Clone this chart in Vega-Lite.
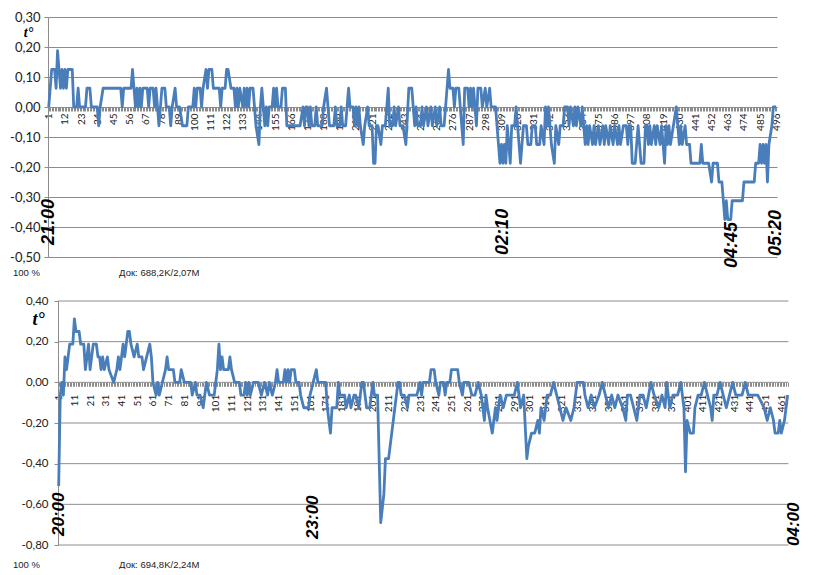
{
  "$schema": "https://vega.github.io/schema/vega-lite/v6.json",
  "background": "white",
  "padding": {"left": 9, "top": 11, "right": 0, "bottom": 0},
  "spacing": 17,
  "config": {
    "locale": {"number": {"decimal": ",", "thousands": " ", "grouping": [3], "currency": ["", ""], "minus": "-"}},
    "view": {"stroke": null},
    "font": "Lato",
    "axis": {"labelFont": "Lato", "labelColor": "#222", "domainColor": "#8c8c8c", "tickColor": "#8c8c8c", "gridColor": "#8c8c8c", "gridWidth": 1, "domainWidth": 1, "tickWidth": 1}
  },
  "vconcat": [
    {
      "width": 729,
      "height": 240,
      "title": {"text": "100 %\u00a0\u00a0\u00a0\u00a0\u00a0\u00a0\u00a0\u00a0\u00a0\u00a0\u00a0\u00a0\u00a0\u00a0\u00a0\u00a0\u00a0\u00a0\u00a0\u00a0\u00a0\u00a0\u00a0\u00a0\u00a0\u00a0\u00a0\u00a0\u00a0\u00a0Док: 688,2K/2,07M", "orient": "bottom", "anchor": "start", "frame": "group", "dx": -35, "offset": 0, "fontSize": 9.5, "font": "Liberation Sans", "fontWeight": "normal", "color": "#222"},
      "layer": [
        {
          "data": {"values": [
{"i":1,"v":0},{"i":3,"v":0.125},{"i":5,"v":0.125},{"i":6,"v":0.0625},{"i":7,"v":0.1875},{"i":8,"v":0.125},{"i":9,"v":0.0625},{"i":10,"v":0.125},{"i":11,"v":0.0625},{"i":12,"v":0.125},{"i":13,"v":0.0625},{"i":14,"v":0.125},{"i":17,"v":0.125},{"i":18,"v":0},{"i":20,"v":0},{"i":21,"v":0.0625},{"i":22,"v":0},{"i":26,"v":0},{"i":27,"v":0.0625},{"i":29,"v":0.0625},{"i":30,"v":0},{"i":34,"v":0},{"i":35,"v":-0.0625},{"i":36,"v":0},{"i":38,"v":0.0625},{"i":50,"v":0.0625},{"i":51,"v":0},{"i":52,"v":0.0625},{"i":57,"v":0.0625},{"i":58,"v":0.125},{"i":59,"v":0.0625},{"i":60,"v":0},{"i":61,"v":0.0625},{"i":62,"v":0},{"i":63,"v":0.0625},{"i":64,"v":0},{"i":65,"v":0.0625},{"i":68,"v":0.0625},{"i":69,"v":0},{"i":70,"v":0.0625},{"i":72,"v":0.0625},{"i":73,"v":0},{"i":74,"v":0.0625},{"i":75,"v":0},{"i":76,"v":-0.0625},{"i":77,"v":0},{"i":78,"v":0.0625},{"i":80,"v":0.0625},{"i":81,"v":0},{"i":83,"v":0},{"i":84,"v":-0.0625},{"i":85,"v":0},{"i":87,"v":0.0625},{"i":88,"v":0},{"i":90,"v":0},{"i":92,"v":-0.0625},{"i":95,"v":-0.0625},{"i":96,"v":0},{"i":99,"v":0},{"i":100,"v":0.0625},{"i":101,"v":0},{"i":102,"v":0.0625},{"i":104,"v":0.0625},{"i":105,"v":0},{"i":106,"v":0.0625},{"i":108,"v":0.125},{"i":109,"v":0.0625},{"i":110,"v":0.125},{"i":112,"v":0.125},{"i":113,"v":0.0625},{"i":117,"v":0.0625},{"i":118,"v":0},{"i":119,"v":0.0625},{"i":121,"v":0.0625},{"i":122,"v":0.125},{"i":123,"v":0.125},{"i":125,"v":0.0625},{"i":127,"v":0.0625},{"i":128,"v":0},{"i":129,"v":0.0625},{"i":130,"v":0},{"i":131,"v":0.0625},{"i":133,"v":0},{"i":134,"v":0.0625},{"i":135,"v":0},{"i":136,"v":0.0625},{"i":137,"v":0},{"i":138,"v":0.0625},{"i":140,"v":0.0625},{"i":141,"v":0},{"i":142,"v":-0.0625},{"i":144,"v":-0.125},{"i":145,"v":0},{"i":146,"v":0.0625},{"i":147,"v":0},{"i":148,"v":-0.0625},{"i":149,"v":0},{"i":150,"v":-0.0625},{"i":151,"v":0},{"i":153,"v":0},{"i":154,"v":0.0625},{"i":155,"v":0},{"i":156,"v":0.0625},{"i":157,"v":0},{"i":159,"v":0},{"i":160,"v":0.0625},{"i":162,"v":0.0625},{"i":163,"v":-0.0625},{"i":172,"v":-0.0625},{"i":174,"v":0},{"i":175,"v":-0.0625},{"i":176,"v":0},{"i":177,"v":0},{"i":178,"v":-0.0625},{"i":179,"v":0},{"i":180,"v":-0.0625},{"i":182,"v":-0.0625},{"i":183,"v":0},{"i":184,"v":-0.0625},{"i":187,"v":-0.0625},{"i":188,"v":0},{"i":190,"v":0.0625},{"i":191,"v":0},{"i":192,"v":-0.0625},{"i":195,"v":-0.0625},{"i":196,"v":0},{"i":197,"v":-0.0625},{"i":199,"v":-0.0625},{"i":200,"v":0},{"i":201,"v":-0.0625},{"i":203,"v":-0.0625},{"i":205,"v":0.0625},{"i":206,"v":0},{"i":208,"v":0},{"i":209,"v":-0.0625},{"i":210,"v":0},{"i":211,"v":-0.0625},{"i":212,"v":0},{"i":213,"v":-0.0625},{"i":215,"v":-0.125},{"i":216,"v":-0.0625},{"i":218,"v":0},{"i":219,"v":-0.0625},{"i":221,"v":-0.0625},{"i":222,"v":-0.1875},{"i":223,"v":-0.1875},{"i":224,"v":-0.0625},{"i":225,"v":-0.0625},{"i":227,"v":-0.125},{"i":228,"v":-0.0625},{"i":230,"v":-0.0625},{"i":232,"v":0.0625},{"i":233,"v":-0.0625},{"i":235,"v":-0.0625},{"i":236,"v":0},{"i":237,"v":-0.0625},{"i":239,"v":0},{"i":240,"v":-0.0625},{"i":242,"v":-0.0625},{"i":244,"v":-0.125},{"i":246,"v":0.0625},{"i":248,"v":0.0625},{"i":249,"v":0},{"i":250,"v":-0.0625},{"i":251,"v":0},{"i":252,"v":-0.0625},{"i":254,"v":-0.0625},{"i":255,"v":0},{"i":256,"v":-0.0625},{"i":258,"v":0},{"i":259,"v":-0.0625},{"i":261,"v":0},{"i":262,"v":-0.0625},{"i":264,"v":0},{"i":265,"v":-0.0625},{"i":267,"v":0},{"i":268,"v":-0.0625},{"i":270,"v":-0.0625},{"i":271,"v":0},{"i":272,"v":0.0625},{"i":273,"v":0.125},{"i":274,"v":0.0625},{"i":276,"v":0.0625},{"i":277,"v":0},{"i":278,"v":0.0625},{"i":280,"v":0.0625},{"i":281,"v":0},{"i":283,"v":-0.125},{"i":284,"v":0.0625},{"i":286,"v":0.0625},{"i":287,"v":0},{"i":288,"v":0.0625},{"i":289,"v":0},{"i":290,"v":0.0625},{"i":291,"v":0},{"i":292,"v":-0.0625},{"i":293,"v":0.0625},{"i":295,"v":0.0625},{"i":296,"v":0},{"i":298,"v":0.0625},{"i":299,"v":0},{"i":301,"v":0.0625},{"i":302,"v":0},{"i":305,"v":0},{"i":306,"v":-0.0625},{"i":307,"v":-0.125},{"i":308,"v":-0.1875},{"i":309,"v":-0.125},{"i":310,"v":-0.1875},{"i":311,"v":-0.125},{"i":312,"v":-0.1875},{"i":313,"v":-0.0625},{"i":314,"v":-0.125},{"i":315,"v":-0.1875},{"i":316,"v":-0.0625},{"i":318,"v":-0.0625},{"i":319,"v":0},{"i":320,"v":-0.0625},{"i":321,"v":-0.125},{"i":322,"v":-0.1875},{"i":323,"v":-0.125},{"i":324,"v":-0.0625},{"i":326,"v":-0.0625},{"i":327,"v":-0.125},{"i":329,"v":-0.125},{"i":330,"v":-0.0625},{"i":332,"v":-0.0625},{"i":333,"v":-0.125},{"i":335,"v":-0.125},{"i":336,"v":-0.0625},{"i":338,"v":-0.125},{"i":339,"v":0},{"i":340,"v":-0.0625},{"i":341,"v":0},{"i":342,"v":-0.0625},{"i":343,"v":-0.125},{"i":345,"v":-0.1875},{"i":346,"v":-0.0625},{"i":348,"v":-0.125},{"i":349,"v":-0.0625},{"i":351,"v":-0.0625},{"i":352,"v":0},{"i":354,"v":0},{"i":355,"v":-0.0625},{"i":356,"v":0},{"i":358,"v":-0.0625},{"i":359,"v":0},{"i":360,"v":-0.0625},{"i":361,"v":0},{"i":363,"v":-0.0625},{"i":364,"v":0},{"i":365,"v":-0.0625},{"i":366,"v":-0.125},{"i":367,"v":-0.0625},{"i":368,"v":-0.125},{"i":369,"v":-0.0625},{"i":371,"v":-0.125},{"i":372,"v":-0.0625},{"i":373,"v":-0.125},{"i":375,"v":-0.0625},{"i":376,"v":-0.125},{"i":378,"v":-0.0625},{"i":379,"v":-0.125},{"i":380,"v":-0.0625},{"i":382,"v":-0.125},{"i":383,"v":-0.0625},{"i":385,"v":-0.125},{"i":386,"v":-0.0625},{"i":388,"v":-0.125},{"i":389,"v":-0.0625},{"i":390,"v":-0.125},{"i":392,"v":-0.0625},{"i":394,"v":-0.0625},{"i":395,"v":-0.125},{"i":396,"v":-0.0625},{"i":397,"v":-0.0625},{"i":398,"v":-0.1875},{"i":400,"v":-0.1875},{"i":401,"v":-0.125},{"i":402,"v":-0.0625},{"i":403,"v":-0.125},{"i":404,"v":-0.1875},{"i":406,"v":-0.1875},{"i":407,"v":-0.0625},{"i":408,"v":-0.0625},{"i":409,"v":-0.125},{"i":410,"v":-0.0625},{"i":411,"v":-0.125},{"i":413,"v":-0.0625},{"i":414,"v":-0.125},{"i":415,"v":-0.0625},{"i":417,"v":-0.125},{"i":418,"v":-0.0625},{"i":420,"v":-0.1875},{"i":421,"v":-0.0625},{"i":422,"v":-0.125},{"i":423,"v":-0.0625},{"i":424,"v":-0.125},{"i":426,"v":-0.0625},{"i":428,"v":0},{"i":429,"v":-0.0625},{"i":430,"v":-0.125},{"i":431,"v":-0.0625},{"i":432,"v":-0.125},{"i":434,"v":-0.0625},{"i":435,"v":-0.125},{"i":437,"v":-0.125},{"i":438,"v":-0.1875},{"i":444,"v":-0.1875},{"i":445,"v":-0.125},{"i":446,"v":-0.1875},{"i":450,"v":-0.1875},{"i":452,"v":-0.25},{"i":453,"v":-0.1875},{"i":456,"v":-0.1875},{"i":457,"v":-0.25},{"i":459,"v":-0.25},{"i":461,"v":-0.375},{"i":462,"v":-0.3125},{"i":463,"v":-0.375},{"i":465,"v":-0.375},{"i":466,"v":-0.3125},{"i":473,"v":-0.3125},{"i":474,"v":-0.25},{"i":481,"v":-0.25},{"i":482,"v":-0.1875},{"i":484,"v":-0.1875},{"i":485,"v":-0.125},{"i":486,"v":-0.1875},{"i":487,"v":-0.125},{"i":488,"v":-0.1875},{"i":489,"v":-0.125},{"i":490,"v":-0.25},{"i":491,"v":-0.125},{"i":493,"v":-0.0625},{"i":494,"v":0},{"i":496,"v":0}
          ]},
          "mark": {"type": "line", "color": "#4a7ebb", "strokeWidth": 2.8, "strokeJoin": "round"},
          "encoding": {
            "x": {"field": "i", "type": "quantitative", "scale": {"domain": [0.5, 496.5], "nice": false, "zero": false},
              "axis": {"orient": "bottom", "offset": -150, "tickCount": 496, "format": "d", "labelExpr": "(datum.value - 1) % 11 == 0 ? datum.label : ''", "labelAngle": 270, "labelAlign": "right", "labelBaseline": "middle", "labelFontSize": 10, "labelPadding": 2, "tickSize": 4, "labelOverlap": false, "labelFlush": false, "labelBound": false, "grid": false, "title": null}},
            "y": {"field": "v", "type": "quantitative", "scale": {"domain": [-0.5, 0.3], "nice": false, "zero": false},
              "axis": {"values": [0.3, 0.2, 0.1, 0, -0.1, -0.2, -0.3, -0.4, -0.5], "tickCount": 20, "format": ".2f", "grid": true, "labelOverlap": false, "labelFlush": false, "tickSize": 4, "labelPadding": 4, "labelFontSize": 13, "title": "t°", "titleAngle": 0, "titleX": -20, "titleY": 15, "titleAlign": "center", "titleBaseline": "middle", "titleFont": "Liberation Serif", "titleFontSize": 14, "titleFontStyle": "italic", "titleFontWeight": "bold", "titleColor": "#000"}}
          }
        },
        {
          "data": {"values": [
            {"i": 1, "v": -0.46, "t": "21:00"},
            {"i": 310, "v": -0.493, "t": "02:10"},
            {"i": 465.6, "v": -0.537, "t": "04:45"},
            {"i": 496, "v": -0.497, "t": "05:20"}
          ]},
          "mark": {"type": "text", "angle": 270, "align": "left", "baseline": "middle", "font": "Liberation Sans", "fontSize": 18, "fontWeight": "bold", "fontStyle": "italic", "color": "#000"},
          "encoding": {
            "x": {"field": "i", "type": "quantitative"},
            "y": {"field": "v", "type": "quantitative"},
            "text": {"field": "t", "type": "nominal"}
          }
        }
      ]
    },
    {
      "width": 740.4,
      "height": 244,
      "title": {"text": "100 %\u00a0\u00a0\u00a0\u00a0\u00a0\u00a0\u00a0\u00a0\u00a0\u00a0\u00a0\u00a0\u00a0\u00a0\u00a0\u00a0\u00a0\u00a0\u00a0\u00a0\u00a0\u00a0\u00a0\u00a0\u00a0\u00a0\u00a0\u00a0\u00a0\u00a0Док: 694,8K/2,24M", "orient": "bottom", "anchor": "start", "frame": "group", "dx": -35, "offset": 9, "fontSize": 9.5, "font": "Liberation Sans", "fontWeight": "normal", "color": "#222"},
      "layer": [
        {
          "data": {"values": [{"g": 0.4}, {"g": 0.2}, {"g": 0}, {"g": -0.2}, {"g": -0.4}, {"g": -0.6}, {"g": -0.8}]},
          "mark": {"type": "rule", "color": "#8c8c8c", "strokeWidth": 1},
          "encoding": {
            "y": {"field": "g", "type": "quantitative"},
            "x": {"datum": 0.5, "type": "quantitative"},
            "x2": {"datum": 465.5}
          }
        },
        {
          "data": {"values": [
{"i":1,"v":-0.51},{"i":2,"v":-0.0625},{"i":3,"v":0},{"i":4,"v":-0.0625},{"i":5,"v":0.125},{"i":6,"v":0.0625},{"i":7,"v":0.125},{"i":8,"v":0.1875},{"i":10,"v":0.1875},{"i":11,"v":0.3125},{"i":12,"v":0.25},{"i":14,"v":0.25},{"i":15,"v":0.1875},{"i":17,"v":0.1875},{"i":18,"v":0.0625},{"i":20,"v":0.1875},{"i":21,"v":0.0625},{"i":22,"v":0.125},{"i":23,"v":0.1875},{"i":25,"v":0.1875},{"i":26,"v":0.125},{"i":27,"v":0.125},{"i":28,"v":0.0625},{"i":29,"v":0.125},{"i":30,"v":0.0625},{"i":32,"v":0.125},{"i":33,"v":0.0625},{"i":36,"v":0},{"i":38,"v":0.0625},{"i":39,"v":0.125},{"i":40,"v":0.0625},{"i":42,"v":0.1875},{"i":43,"v":0.125},{"i":45,"v":0.25},{"i":46,"v":0.25},{"i":47,"v":0.1875},{"i":49,"v":0.125},{"i":51,"v":0.1875},{"i":52,"v":0.125},{"i":54,"v":0.125},{"i":55,"v":0.0625},{"i":57,"v":0.125},{"i":59,"v":0.1875},{"i":60,"v":0.125},{"i":61,"v":0},{"i":63,"v":-0.0625},{"i":64,"v":0},{"i":65,"v":-0.0625},{"i":67,"v":0},{"i":69,"v":0.0625},{"i":70,"v":0.125},{"i":71,"v":0.0625},{"i":74,"v":0.0625},{"i":75,"v":0},{"i":78,"v":0},{"i":79,"v":0.0625},{"i":81,"v":0},{"i":85,"v":0},{"i":86,"v":-0.0625},{"i":88,"v":0},{"i":89,"v":-0.0625},{"i":91,"v":-0.0625},{"i":93,"v":-0.125},{"i":94,"v":-0.0625},{"i":95,"v":0},{"i":97,"v":-0.0625},{"i":100,"v":-0.0625},{"i":102,"v":0.0625},{"i":103,"v":0.1875},{"i":104,"v":0.0625},{"i":105,"v":0.125},{"i":106,"v":0.0625},{"i":109,"v":0.0625},{"i":110,"v":0.125},{"i":111,"v":0.0625},{"i":113,"v":0},{"i":116,"v":0},{"i":117,"v":-0.0625},{"i":119,"v":-0.0625},{"i":120,"v":0},{"i":121,"v":-0.0625},{"i":122,"v":0},{"i":123,"v":-0.0625},{"i":125,"v":0},{"i":128,"v":0},{"i":130,"v":-0.0625},{"i":132,"v":0},{"i":134,"v":-0.0625},{"i":135,"v":0},{"i":137,"v":-0.0625},{"i":139,"v":0},{"i":140,"v":0.0625},{"i":141,"v":0},{"i":144,"v":0},{"i":145,"v":0.0625},{"i":146,"v":0},{"i":147,"v":0.0625},{"i":148,"v":0},{"i":149,"v":0.0625},{"i":151,"v":0.0625},{"i":152,"v":0},{"i":154,"v":0},{"i":155,"v":-0.0625},{"i":157,"v":-0.125},{"i":160,"v":-0.125},{"i":161,"v":-0.0625},{"i":163,"v":0},{"i":165,"v":0.0625},{"i":166,"v":0},{"i":171,"v":0},{"i":172,"v":-0.125},{"i":174,"v":-0.25},{"i":175,"v":-0.125},{"i":178,"v":-0.125},{"i":179,"v":0},{"i":180,"v":-0.0625},{"i":183,"v":-0.0625},{"i":184,"v":-0.125},{"i":186,"v":-0.0625},{"i":187,"v":-0.125},{"i":189,"v":-0.0625},{"i":190,"v":-0.0625},{"i":192,"v":-0.125},{"i":194,"v":0},{"i":195,"v":0},{"i":197,"v":-0.125},{"i":199,"v":-0.125},{"i":201,"v":0},{"i":202,"v":-0.0625},{"i":204,"v":-0.0625},{"i":206,"v":-0.69},{"i":208,"v":-0.55},{"i":209,"v":-0.375},{"i":211,"v":-0.375},{"i":213,"v":-0.25},{"i":215,"v":-0.125},{"i":217,"v":0},{"i":218,"v":0},{"i":219,"v":-0.0625},{"i":221,"v":-0.0625},{"i":223,"v":-0.125},{"i":224,"v":-0.0625},{"i":229,"v":-0.0625},{"i":231,"v":0},{"i":232,"v":-0.0625},{"i":233,"v":0},{"i":237,"v":0},{"i":238,"v":0.0625},{"i":240,"v":0.0625},{"i":241,"v":0},{"i":243,"v":-0.0625},{"i":244,"v":0},{"i":246,"v":0},{"i":247,"v":-0.0625},{"i":248,"v":0},{"i":250,"v":0},{"i":251,"v":0.0625},{"i":255,"v":0.0625},{"i":256,"v":0},{"i":258,"v":-0.0625},{"i":259,"v":0},{"i":262,"v":0},{"i":264,"v":-0.0625},{"i":266,"v":-0.0625},{"i":268,"v":0},{"i":270,"v":-0.0625},{"i":272,"v":-0.1875},{"i":273,"v":-0.0625},{"i":274,"v":-0.125},{"i":277,"v":-0.25},{"i":279,"v":-0.125},{"i":280,"v":-0.1875},{"i":282,"v":-0.0625},{"i":284,"v":-0.125},{"i":286,"v":-0.0625},{"i":291,"v":-0.0625},{"i":293,"v":0},{"i":295,"v":-0.125},{"i":297,"v":-0.0625},{"i":299,"v":-0.375},{"i":300,"v":-0.3125},{"i":302,"v":-0.25},{"i":304,"v":-0.25},{"i":306,"v":-0.1875},{"i":307,"v":-0.25},{"i":308,"v":-0.125},{"i":310,"v":-0.1875},{"i":312,"v":-0.0625},{"i":314,"v":-0.0625},{"i":316,"v":0},{"i":318,"v":-0.0625},{"i":320,"v":-0.125},{"i":322,"v":-0.1875},{"i":324,"v":-0.125},{"i":327,"v":-0.1875},{"i":329,"v":-0.125},{"i":331,"v":0},{"i":335,"v":0},{"i":336,"v":-0.0625},{"i":338,"v":-0.125},{"i":340,"v":-0.0625},{"i":342,"v":-0.125},{"i":345,"v":-0.0625},{"i":347,"v":0},{"i":349,"v":-0.0625},{"i":351,"v":-0.125},{"i":353,"v":-0.0625},{"i":355,"v":-0.125},{"i":357,"v":-0.0625},{"i":360,"v":-0.125},{"i":362,"v":-0.1875},{"i":363,"v":-0.0625},{"i":365,"v":-0.0625},{"i":367,"v":-0.125},{"i":369,"v":-0.1875},{"i":371,"v":-0.0625},{"i":373,"v":-0.0625},{"i":375,"v":-0.125},{"i":378,"v":0},{"i":380,"v":-0.0625},{"i":383,"v":-0.125},{"i":385,"v":-0.0625},{"i":387,"v":-0.125},{"i":388,"v":0},{"i":390,"v":-0.125},{"i":392,"v":-0.0625},{"i":395,"v":-0.0625},{"i":397,"v":0},{"i":398,"v":-0.0625},{"i":399,"v":-0.125},{"i":400,"v":-0.44},{"i":401,"v":-0.1875},{"i":403,"v":-0.25},{"i":405,"v":-0.25},{"i":406,"v":-0.125},{"i":408,"v":-0.0625},{"i":410,"v":-0.0625},{"i":412,"v":0},{"i":414,"v":-0.0625},{"i":416,"v":-0.125},{"i":417,"v":-0.1875},{"i":418,"v":-0.0625},{"i":420,"v":-0.0625},{"i":422,"v":0},{"i":424,"v":-0.0625},{"i":426,"v":-0.125},{"i":428,"v":-0.0625},{"i":430,"v":0},{"i":432,"v":-0.0625},{"i":436,"v":-0.0625},{"i":438,"v":0},{"i":440,"v":-0.0625},{"i":446,"v":-0.0625},{"i":450,"v":-0.125},{"i":452,"v":-0.1875},{"i":454,"v":-0.125},{"i":456,"v":-0.1875},{"i":457,"v":-0.25},{"i":459,"v":-0.25},{"i":460,"v":-0.1875},{"i":461,"v":-0.25},{"i":463,"v":-0.1875},{"i":464,"v":-0.125},{"i":465,"v":-0.0625}
          ]},
          "mark": {"type": "line", "color": "#4a7ebb", "strokeWidth": 2.8, "strokeJoin": "round"},
          "encoding": {
            "x": {"field": "i", "type": "quantitative", "scale": {"domain": [-5.8, 465.5], "nice": false, "zero": false},
              "axis": {"orient": "bottom", "offset": -162.7, "tickCount": 471, "format": "d", "domain": false, "labelExpr": "datum.value >= 1 && (datum.value - 1) % 10 == 0 ? datum.label : ''", "tickOpacity": {"condition": {"test": "datum.value < 1", "value": 0}, "value": 1}, "labelAngle": 270, "labelAlign": "right", "labelBaseline": "middle", "labelFontSize": 10, "labelPadding": 8, "tickSize": 4, "labelOverlap": false, "labelFlush": false, "labelBound": false, "grid": false, "title": null}},
            "y": {"field": "v", "type": "quantitative", "scale": {"domain": [-0.8, 0.4], "nice": false, "zero": false},
              "axis": {"values": [0.4, 0.2, 0, -0.2, -0.4, -0.6, -0.8], "tickCount": 20, "format": ".2f", "grid": false, "labelOverlap": false, "labelFlush": false, "offset": -10, "tickSize": 4, "labelPadding": 6, "labelFontSize": 11.5, "title": "t°", "titleAngle": 0, "titleX": -20, "titleY": 18, "titleAlign": "center", "titleBaseline": "middle", "titleFont": "Liberation Serif", "titleFontSize": 18, "titleFontStyle": "italic", "titleFontWeight": "bold", "titleColor": "#000"}}
          }
        },
        {
          "data": {"values": [
            {"i": 1, "v": -0.756, "t": "20:00"},
            {"i": 163, "v": -0.77, "t": "23:00"},
            {"i": 469, "v": -0.805, "t": "04:00"}
          ]},
          "mark": {"type": "text", "angle": 270, "align": "left", "baseline": "middle", "font": "Liberation Sans", "fontSize": 17, "fontWeight": "bold", "fontStyle": "italic", "color": "#000"},
          "encoding": {
            "x": {"field": "i", "type": "quantitative"},
            "y": {"field": "v", "type": "quantitative"},
            "text": {"field": "t", "type": "nominal"}
          }
        }
      ]
    }
  ]
}
